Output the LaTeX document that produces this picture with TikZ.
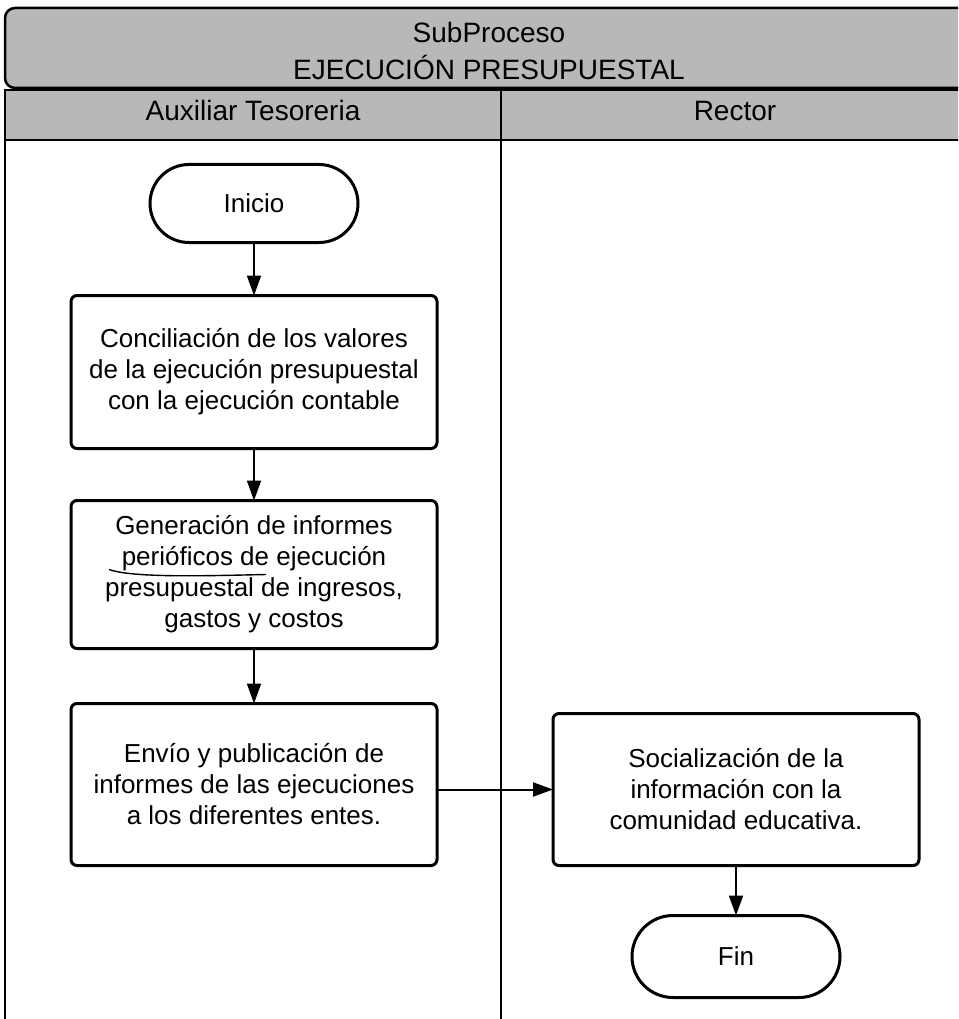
\documentclass[tikz,border=0pt]{standalone}
\usepackage{fontspec}
\setmainfont{Liberation Sans}
\usetikzlibrary{arrows.meta,positioning}

\begin{document}
\begin{tikzpicture}[x=1pt,y=-1pt,node distance=53pt and 116pt,>={Triangle[length=20pt,width=14pt]},every node/.style={font=\fontsize{26}{31}\selectfont},lane/.style={draw,line width=2.5pt,fill=black!28},head/.style={align=center,font=\fontsize{28}{37}\selectfont},stepbox/.style={draw,line width=3pt,rounded corners=6pt,align=center,minimum width=366pt,minimum height=153pt,inner sep=0pt,outer sep=0pt},term/.style={draw,line width=3pt,rounded corners=39pt,minimum width=208pt,minimum height=78pt,outer sep=0pt},flow/.style={->,line width=2pt}]
\useasboundingbox (0,0) rectangle (958,1019);
\clip (0,0) rectangle (958,1019);
% pool and lanes
\draw[lane,rounded corners=10pt] (1000,88) -- (5,88) -- (5,8) -- (1000,8);
\draw[lane] (5,90) rectangle (501,140);
\draw[lane] (501,90) rectangle (1000,140);
\draw[line width=2.5pt] (5,140) -- (5,1030);
\draw[line width=2.5pt] (501,140) -- (501,1030);
\node[head] (title) at (489,51) {SubProceso\\EJECUCIÓN PRESUPUESTAL};
\node[head,anchor=base] (auxiliar) at (253,121) {Auxiliar Tesoreria};
\node[head,anchor=base] (rector) at (735,121) {Rector};
% flow
\node[term] (inicio) at (254,203.5) {Inicio};
\node[stepbox,below=of inicio] (conciliacion) {Conciliación de los valores\\de la ejecución presupuestal\\con la ejecución contable};
\node[stepbox,below=52pt of conciliacion,minimum height=148pt] (informes) {Generación de informes\\perióficos de ejecución\\presupuestal de ingresos,\\gastos y costos};
\node[stepbox,below=55pt of informes,minimum height=162pt] (envio) {Envío y publicación de\\informes de las ejecuciones\\a los diferentes entes.};
\node[stepbox,right=of envio,yshift=-5pt,minimum height=152pt] (socializacion) {Socialización de la\\información con la\\comunidad educativa.};
\node[term,below=50pt of socializacion,minimum height=82pt,rounded corners=41pt] (fin) {Fin};
\draw[flow] (inicio) -- (conciliacion); \draw[flow] (conciliacion) -- (informes);
\draw[flow] (informes) -- (envio); \draw[flow] (envio.east |- socializacion) -- (socializacion);
\draw[flow] (socializacion) -- (fin);
% pen mark under the second line
\draw[line width=1.4pt] (informes.north west) ++(38,69) .. controls +(25,9) and +(-50,1) .. ++(157,5);
\end{tikzpicture}
\end{document}
